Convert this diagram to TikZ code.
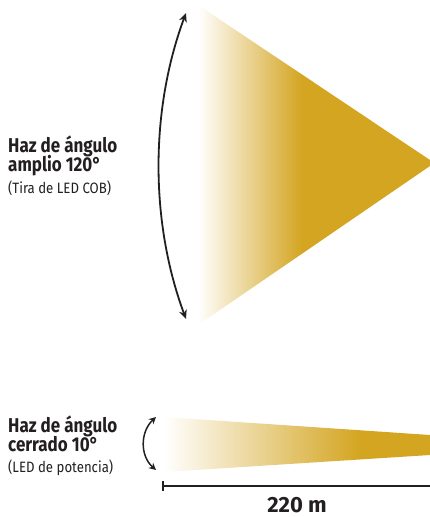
\documentclass[tikz,border=0pt]{standalone}
\usepackage{fontspec}
\setmainfont{Fira Sans}[FakeStretch=0.85]
\newfontfamily\subfont{Fira Sans}[FakeStretch=0.88]
\newfontfamily\distfont{Fira Sans}[FakeStretch=1.0]
\usetikzlibrary{arrows.meta}
\definecolor{gold}{HTML}{D4A521}
\definecolor{ink}{HTML}{231F20}
\begin{document}
\begin{tikzpicture}[x=1pt,y=-1pt,
  title/.style={anchor=base west,inner sep=0pt,text=ink,font=\fontsize{20}{22}\selectfont\bfseries},
  sub/.style={anchor=base west,inner sep=0pt,text=ink,font=\subfont\fontsize{15}{16}\selectfont},
  arc/.style={draw=ink,line width=1.8pt,{Stealth[length=9pt,width=8pt]}-{Stealth[length=9pt,width=8pt]}},
  sarc/.style={draw=ink,line width=1.5pt,{Stealth[length=7pt,width=7pt]}-{Stealth[length=7pt,width=7pt]}}]
\useasboundingbox (0,0) rectangle (430,517);
% wide cone
\begin{scope}
  \clip (198,5) -- (430,160) -- (430,166) -- (198,325) -- cycle;
  \shade[left color=white,right color=gold] (198,0) rectangle (302,330);
  \fill[gold] (301.5,0) rectangle (431,330);
\end{scope}
% narrow cone
\begin{scope}
  \clip (164,417) -- (430,435) -- (430,455) -- (164,472) -- cycle;
  \shade[left color=white,right color=gold] (164,410) rectangle (360,480);
  \fill[gold] (359.5,410) rectangle (431,480);
\end{scope}
% arcs
\coordinate (a1) at (186,13);
\coordinate (a2) at (186,319);
\draw[arc] (a1) .. controls (150,110) and (150,222) .. (a2);
\coordinate (b1) at (156,417);
\coordinate (b2) at (156,470);
\draw[sarc] (b1) .. controls (140,432) and (140,456) .. (b2);
% dimension
\coordinate (d1) at (163,486);
\coordinate (d2) at (430,486);
\coordinate (d1t) at (163,481);
\coordinate (d1b) at (163,491);
\draw[ink,line width=1.2pt] (d1) -- (d2);
\draw[ink,line width=1.2pt] (d1t) -- (d1b);
\node[anchor=base,inner sep=0pt,text=ink,font=\distfont\fontsize{22}{24}\selectfont\bfseries] (dist) at (297,512) {220 m};
% texts
\node[title] (w1) at (8,152) {Haz de ángulo};
\node[title] (w2) at (8,171.5) {amplio 120°};
\node[sub] (w3) at (8,193) {(Tira de LED COB)};
\node[title] (n1) at (8,432) {Haz de ángulo};
\node[title] (n2) at (8,451.5) {cerrado 10°};
\node[sub] (n3) at (8,472) {(LED de potencia)};
\end{tikzpicture}
\end{document}
